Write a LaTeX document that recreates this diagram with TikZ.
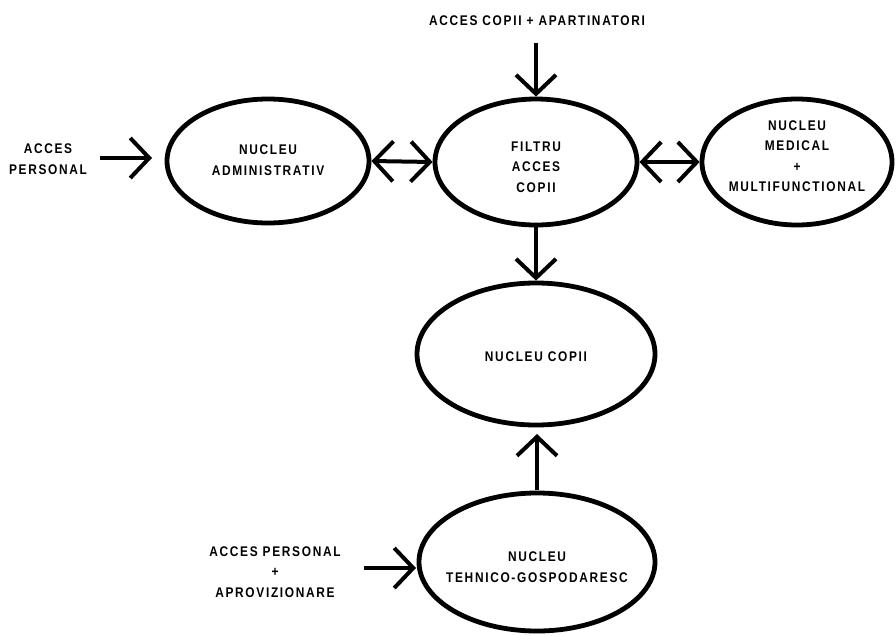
\documentclass[tikz,border=0pt]{standalone}
\usepackage{fontspec}
\setmainfont{Liberation Sans}
\newfontfamily\lblfont[LetterSpace=12,FakeStretch=0.85]{Liberation Sans Bold}
\usetikzlibrary{shapes.geometric,arrows.meta}
\begin{document}
\begin{tikzpicture}[x=1pt,y=-1pt,
  txt/.style={align=center,inner sep=0pt,font=\lblfont\fontsize{14}{20.5}\selectfont},
  blob/.style={ellipse,draw,line width=4.8pt,inner sep=0pt},
  conn/.style={line width=4pt,-{Straight Barb[length=19pt,width=40pt]}},
  dconn/.style={line width=4pt,{Straight Barb[length=19pt,width=40pt]}-{Straight Barb[length=19pt,width=40pt]}}]
\useasboundingbox (0,0) rectangle (896,635);
\node[blob,minimum width=202pt,minimum height=124pt,
  label={[txt,yshift=1pt]center:NUCLEU\\ADMINISTRATIV}] (adm) at (268,161) {};
\node[blob,minimum width=202pt,minimum height=126pt,
  label={[txt,yshift=-5pt]center:FILTRU\\ACCES\\COPII}] (fil) at (536,162) {};
\node[blob,minimum width=190pt,minimum height=126pt,
  label={[txt,yshift=6pt]center:NUCLEU\\MEDICAL\\+\\MULTIFUNCTIONAL}] (med) at (797,162) {};
\node[blob,minimum width=238pt,minimum height=142pt,
  label={[txt,yshift=-3pt]center:NUCLEU COPII}] (cop) at (536,354) {};
\node[blob,minimum width=236pt,minimum height=138pt,
  label={[txt,yshift=-5pt]center:NUCLEU\\TEHNICO-GOSPODARESC}] (teh) at (537,562) {};
\node[txt] (lcop) at (537,21) {ACCES COPII + APARTINATORI};
\node[txt] (lper) at (48,159) {ACCES\\PERSONAL};
\node[txt] (lapr) at (275,572) {ACCES PERSONAL\\+\\APROVIZIONARE};
\coordinate (c1) at (536,43);
\coordinate (c2) at (100,158);
\coordinate (c2e) at (152,158);
\coordinate (c3) at (364,568);
\coordinate (c3e) at (416,568);
\coordinate (c4) at (537,490);
\coordinate (c4e) at (537,434);
\draw[conn] (c1) -- (fil.north);
\draw[conn] (c2) -- (c2e);
\draw[conn] (c3) -- (c3e);
\draw[dconn] (adm.east) -- (fil.west);
\draw[dconn] (fil.east) -- (med.west);
\draw[conn] (fil.south) -- (cop.north);
\draw[conn] (c4) -- (c4e);
\end{tikzpicture}
\end{document}
